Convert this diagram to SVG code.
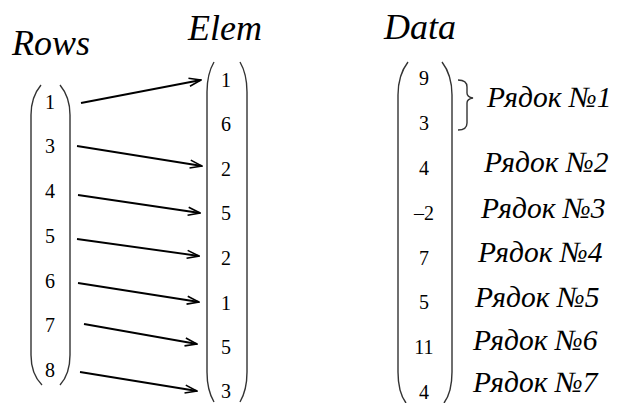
<svg xmlns="http://www.w3.org/2000/svg" width="622" height="403" viewBox="0 0 622 403">
<defs>
<marker id="ah" viewBox="0 0 14 10" refX="13" refY="5" markerWidth="14" markerHeight="10" markerUnits="userSpaceOnUse" orient="auto">
<path d="M1,1 L13,5 L1,9" fill="none" stroke="#000" stroke-width="1.6"/>
</marker>
</defs>
<style>
text{font-family:'Liberation Serif','Times New Roman',serif;fill:#000}
.title{font-style:italic;font-size:36px}
.num{font-size:20px;text-anchor:middle}
.lbl{font-style:italic;font-size:29.5px}
.par{fill:none;stroke:#333;stroke-width:1.4}
.arr{fill:none;stroke:#000;stroke-width:1.8;marker-end:url(#ah)}
</style>
<rect width="622" height="403" fill="#fff"/>
<text class="title" x="12" y="55">Rows</text>
<text class="title" x="188" y="40">Elem</text>
<text class="title" x="384" y="39">Data</text>

<g id="rows">
<path class="par" d="M41,85 Q31,97 31,115 L31,355 Q31,374 42,385"/>
<path class="par" d="M60,85 Q70,97 70,115 L70,355 Q70,374 60,385"/>
<text class="num" x="50" y="109">1</text>
<text class="num" x="50" y="153">3</text>
<text class="num" x="50" y="198">4</text>
<text class="num" x="50" y="243">5</text>
<text class="num" x="50" y="288">6</text>
<text class="num" x="50" y="332">7</text>
<text class="num" x="50" y="377">8</text>
</g>

<g id="elem">
<path class="par" d="M214,62 Q207,74 207,92 L207,372 Q207,390 214,402"/>
<path class="par" d="M240,62 Q247,74 247,92 L247,372 Q247,390 240,402"/>
<text class="num" x="226" y="87">1</text>
<text class="num" x="226" y="131">6</text>
<text class="num" x="226" y="176">2</text>
<text class="num" x="226" y="220">5</text>
<text class="num" x="226" y="265">2</text>
<text class="num" x="226" y="310">1</text>
<text class="num" x="226" y="354">5</text>
<text class="num" x="226" y="398">3</text>
</g>

<g id="data">
<path class="par" d="M408,62 Q398,75 398,95 L398,372 Q398,392 406,403"/>
<path class="par" d="M442,62 Q452,75 452,95 L452,372 Q452,392 444,403"/>
<text class="num" x="424" y="85">9</text>
<text class="num" x="424" y="130">3</text>
<text class="num" x="424" y="175">4</text>
<text class="num" x="424" y="220">–2</text>
<text class="num" x="424" y="265">7</text>
<text class="num" x="424" y="309">5</text>
<text class="num" x="424" y="354">11</text>
<text class="num" x="424" y="399">4</text>
</g>

<g id="labels">
<path class="par" d="M458,80 Q467,80 467,87 L467,93 Q467,97 473,98 Q467,99 467,103 L467,123 Q467,130 458,130"/>
<text class="lbl" x="487" y="107">Рядок №1</text>
<text class="lbl" x="484" y="172">Рядок №2</text>
<text class="lbl" x="481" y="218">Рядок №3</text>
<text class="lbl" x="478" y="262">Рядок №4</text>
<text class="lbl" x="475" y="307">Рядок №5</text>
<text class="lbl" x="473" y="350">Рядок №6</text>
<text class="lbl" x="473" y="392">Рядок №7</text>
</g>

<g id="connectors">
<line class="arr" x1="81" y1="103" x2="201" y2="80"/>
<line class="arr" x1="77" y1="146" x2="202" y2="166"/>
<line class="arr" x1="78" y1="195" x2="200" y2="213"/>
<line class="arr" x1="77" y1="239" x2="199" y2="256"/>
<line class="arr" x1="78" y1="283" x2="199" y2="302"/>
<line class="arr" x1="84" y1="324" x2="197" y2="344"/>
<line class="arr" x1="80" y1="372" x2="197" y2="391"/>
</g>
</svg>
